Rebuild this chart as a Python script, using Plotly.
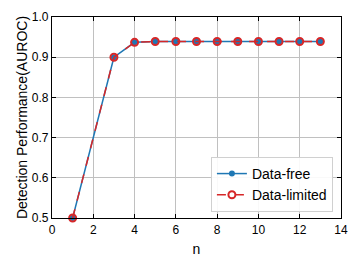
import plotly.graph_objects as go

n_values = [1, 3, 4, 5, 6, 7, 8, 9, 10, 11, 12, 13]
data_free = [0.5, 0.9, 0.937, 0.939, 0.939, 0.939, 0.939, 0.939, 0.939, 0.939, 0.939, 0.939]
data_limited = [0.5, 0.9, 0.937, 0.939, 0.939, 0.939, 0.939, 0.939, 0.939, 0.939, 0.939, 0.939]

FONT = "Liberation Sans, Arial, sans-serif"

fig = go.Figure()
fig.add_trace(go.Scatter(
    x=n_values, y=data_free, name="Data-free", mode="lines+markers",
    line=dict(color="#1f77b4", width=1.5),
    marker=dict(color="#1f77b4", size=6, symbol="circle"),
    cliponaxis=False,
))
fig.add_trace(go.Scatter(
    x=n_values, y=data_limited, name="Data-limited", mode="lines+markers",
    line=dict(color="#d62728", width=1.5, dash="dash"),
    marker=dict(color="#d62728", size=7, symbol="circle-open", line=dict(width=2, color="#d62728")),
    cliponaxis=False,
))

axis_common = dict(
    showline=True, linecolor="black", linewidth=1.2, mirror="ticks",
    ticks="inside", ticklen=4, tickwidth=1, tickcolor="black",
    showgrid=True, gridcolor="#c0c0c0", gridwidth=1, zeroline=False,
    automargin=False,
    tickfont=dict(family=FONT, size=12, color="black"),
)

fig.update_xaxes(range=[0, 14], dtick=2, tick0=0,
                 title=dict(text="n", font=dict(family=FONT, size=14, color="black"), standoff=8),
                 **axis_common)
fig.update_yaxes(range=[0.5, 1.0], dtick=0.1, tick0=0.5, tickformat=".1f",
                 title=dict(text="Detection Performance(AUROC)", font=dict(family=FONT, size=14, color="black"), standoff=0),
                 **axis_common)

fig.update_layout(
    width=358, height=265,
    margin=dict(l=52, r=17, t=17, b=47),
    paper_bgcolor="white", plot_bgcolor="white",
    font=dict(family=FONT, size=12, color="black"),
    legend=dict(x=0.972, y=0.03, xanchor="right", yanchor="bottom",
                bgcolor="rgba(255,255,255,0.9)", bordercolor="#d0d0d0", borderwidth=1,
                font=dict(size=14, family=FONT, color="black"), itemwidth=30, tracegroupgap=0),
    showlegend=True,
)

fig.write_html("out.html", config={"displayModeBar": False},
               post_script="document.body.style.margin='0';document.body.style.padding='0';")
